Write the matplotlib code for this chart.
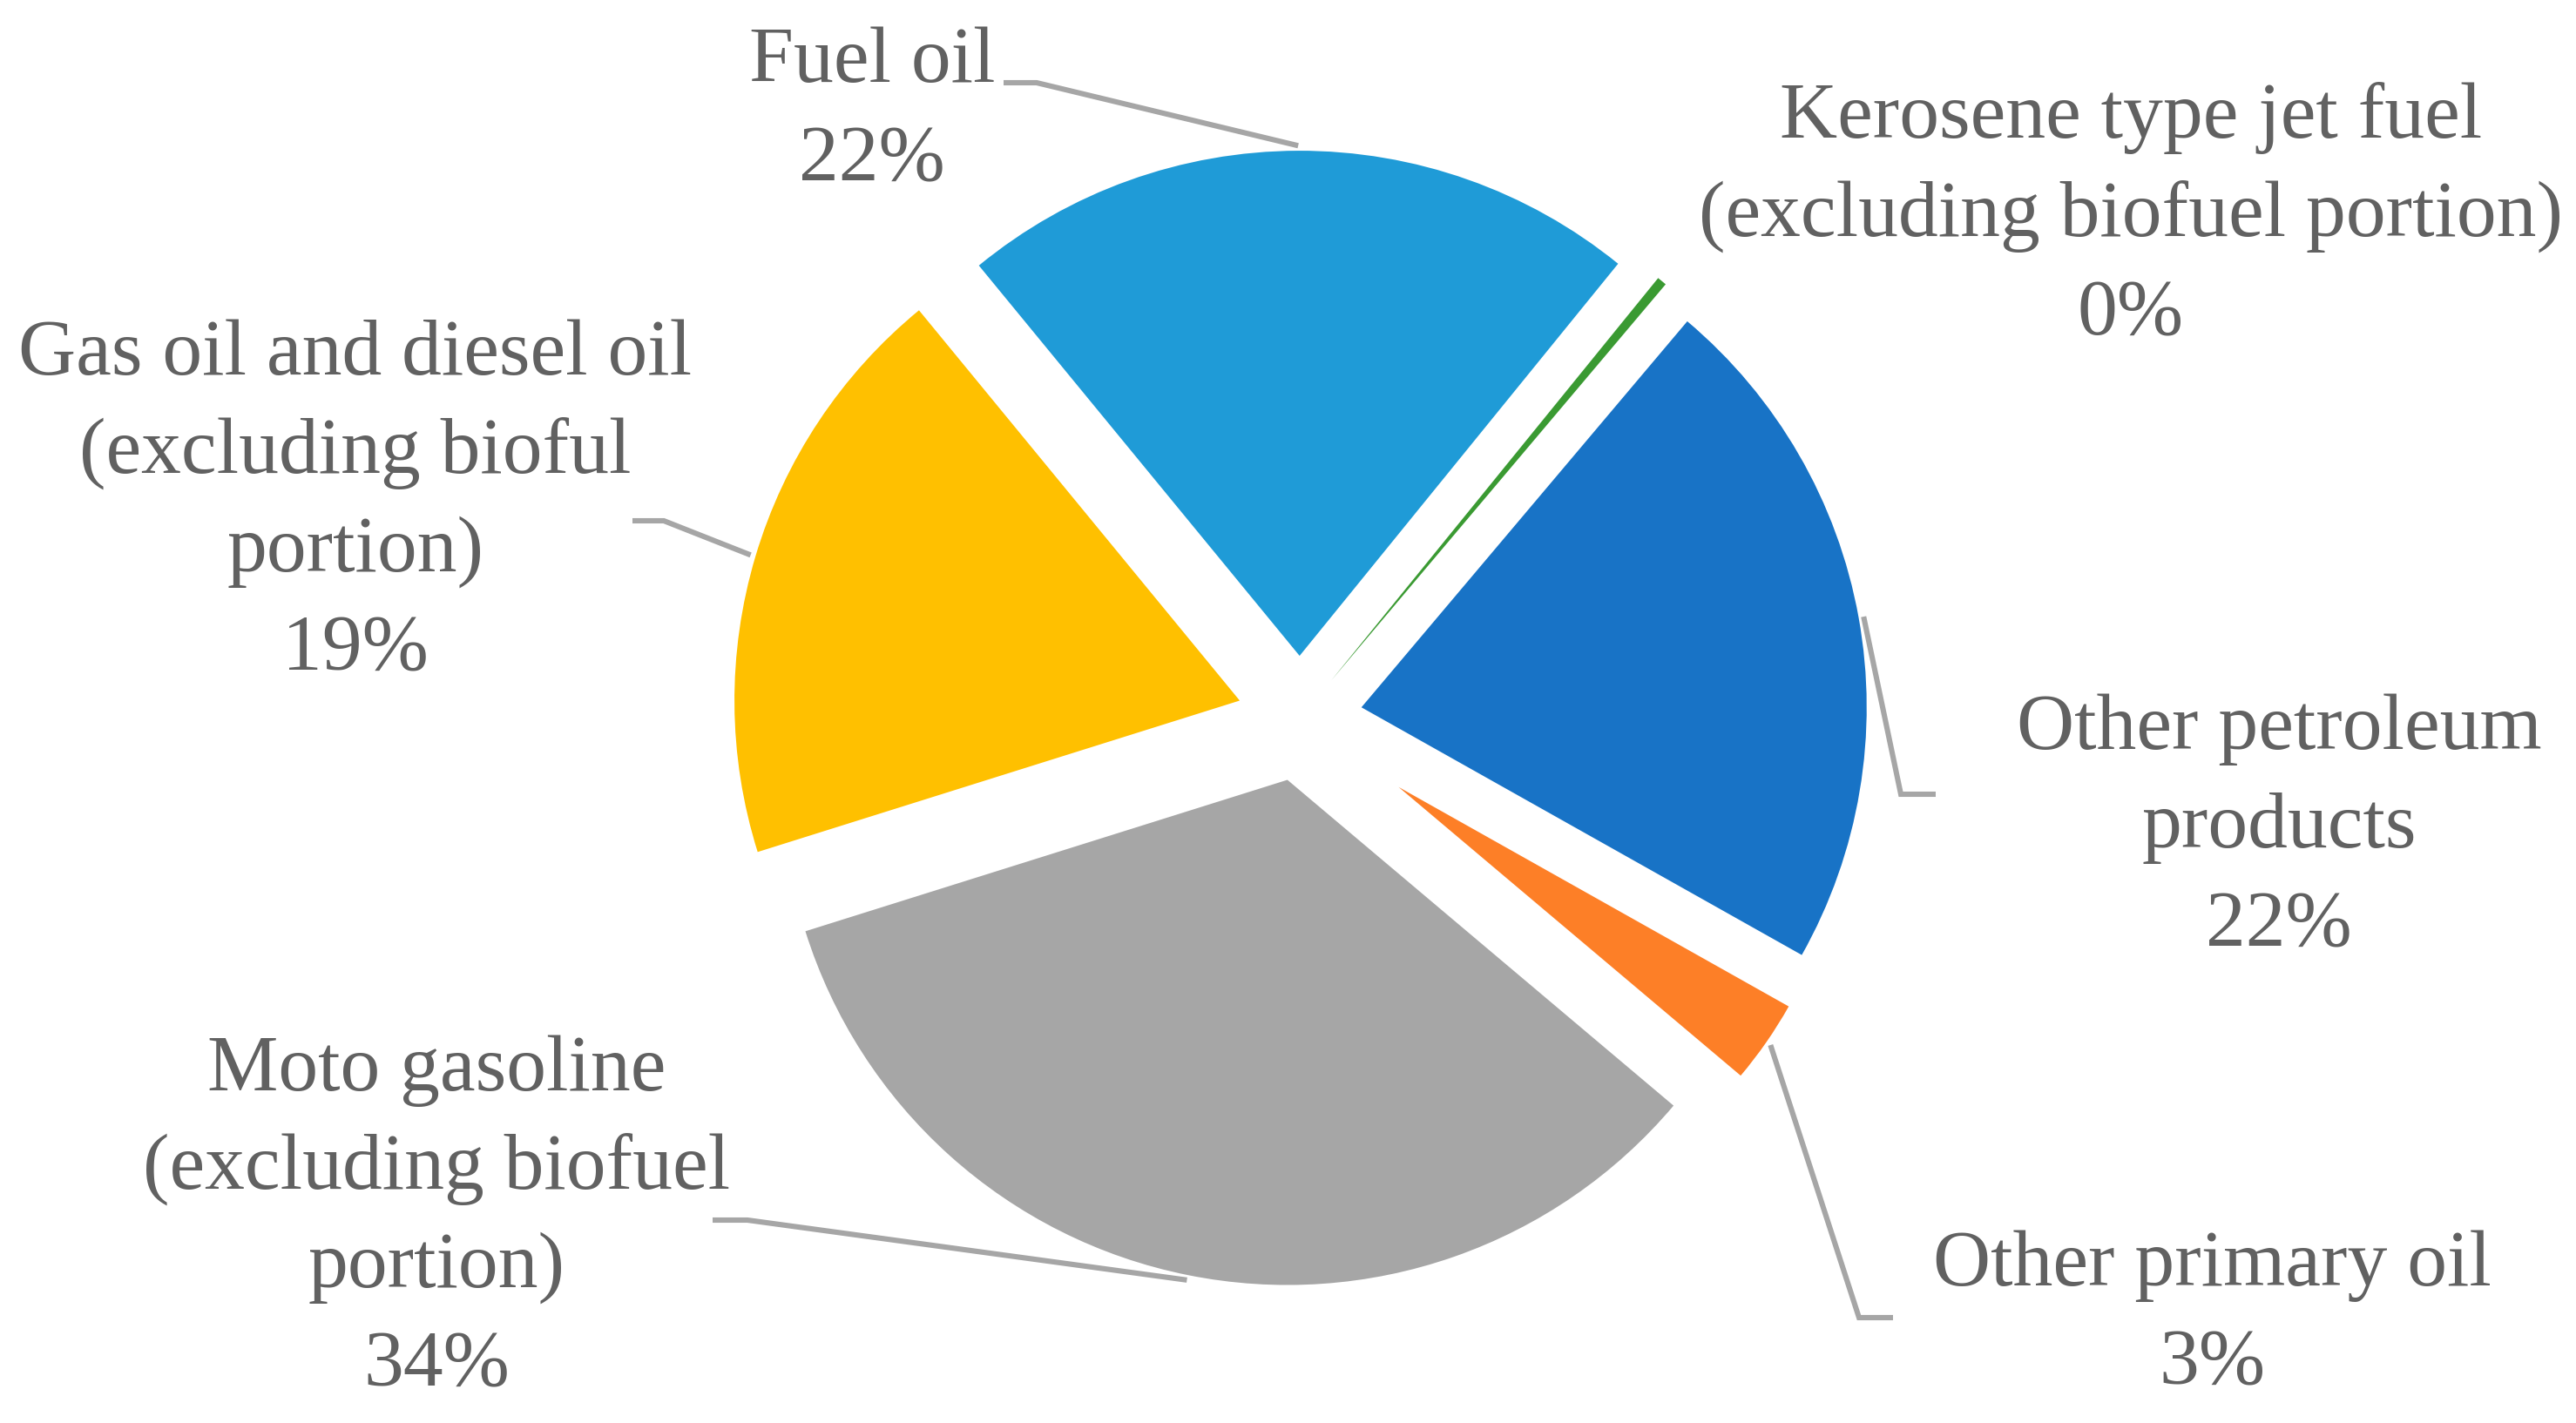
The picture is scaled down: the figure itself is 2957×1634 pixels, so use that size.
import matplotlib.pyplot as plt
import numpy as np

# slices, clockwise from the upper-left edge of "Fuel oil"
categories = ['Fuel oil',
              'Kerosene type jet fuel\n(excluding biofuel portion)',
              'Other petroleum\nproducts',
              'Other primary oil',
              'Moto gasoline\n(excluding biofuel\nportion)',
              'Gas oil and diesel oil\n(excluding bioful\nportion)']
shares = [21.8, 0.3, 22.0, 3.0, 34.0, 18.9]
colors = ['#1F9BD7', '#3A9A32', '#1873C6', '#FD7F27', '#A6A6A6', '#FFC000']
explode = [0.124, 0.098, 0.124, 0.238, 0.124, 0.124]

# label placement (pixel coords: centre x, first baseline y)
label_pos = [(1001, 94), (2446, 158), (2616, 860), (2539, 1476), (501, 1252), (408, 430)]
# leader lines: label-side start and knee (None = no leader)
leaders = [[(1152, 95), (1190, 95)],
           None,
           [(2222, 912), (2182, 912)],
           [(2173, 1513), (2134, 1513)],
           [(818, 1401), (858, 1401)],
           [(726, 598), (762, 598)]]

W, H = 2957, 1634
fig = plt.figure(figsize=(W / 200, H / 200), dpi=200)

cx, cy, R = 1492, 825, 580   # pie centre / radius in pixels
half = 700
ax = fig.add_axes([(cx - half) / W, (H - cy - half) / H, 2 * half / W, 2 * half / H])
wedges, _ = ax.pie(shares, colors=colors, explode=explode, startangle=129.4,
                   counterclock=False, radius=1,
                   wedgeprops=dict(linewidth=0))
lim = half / R
ax.set_xlim(-lim, lim)
ax.set_ylim(-lim, lim)

# outer arcs of exploded slices stay on one ring (as Excel draws them)
outer = 1.124
for w, e in zip(wedges, explode):
    w.set_radius(outer - e)

tx = fig.add_axes([0, 0, 1, 1], zorder=3)
tx.set_xlim(0, W)
tx.set_ylim(H, 0)
tx.axis('off')
tx.patch.set_visible(False)

txt_color = '#616161'
line_step = 113
for name, share, (x, y0), w, ld in zip(categories, shares, label_pos, wedges, leaders):
    lines = name.split('\n') + [f'{round(share):.0f}%']
    for i, line in enumerate(lines):
        tx.text(x, y0 + i * line_step, line, ha='center', va='baseline',
                fontsize=33, color=txt_color, family='Liberation Serif')
    if ld is None:
        continue
    mid = np.radians((w.theta1 + w.theta2) / 2)
    wx, wy = w.center
    r = w.r + 0.01
    ex = cx + R * (wx + r * np.cos(mid))
    ey = cy - R * (wy + r * np.sin(mid))
    xs = [ld[0][0], ld[1][0], ex]
    ys = [ld[0][1], ld[1][1], ey]
    tx.plot(xs, ys, color='#A6A6A6', lw=2.2, solid_joinstyle='miter',
            solid_capstyle='butt')

fig.savefig('out.png', dpi=200)
